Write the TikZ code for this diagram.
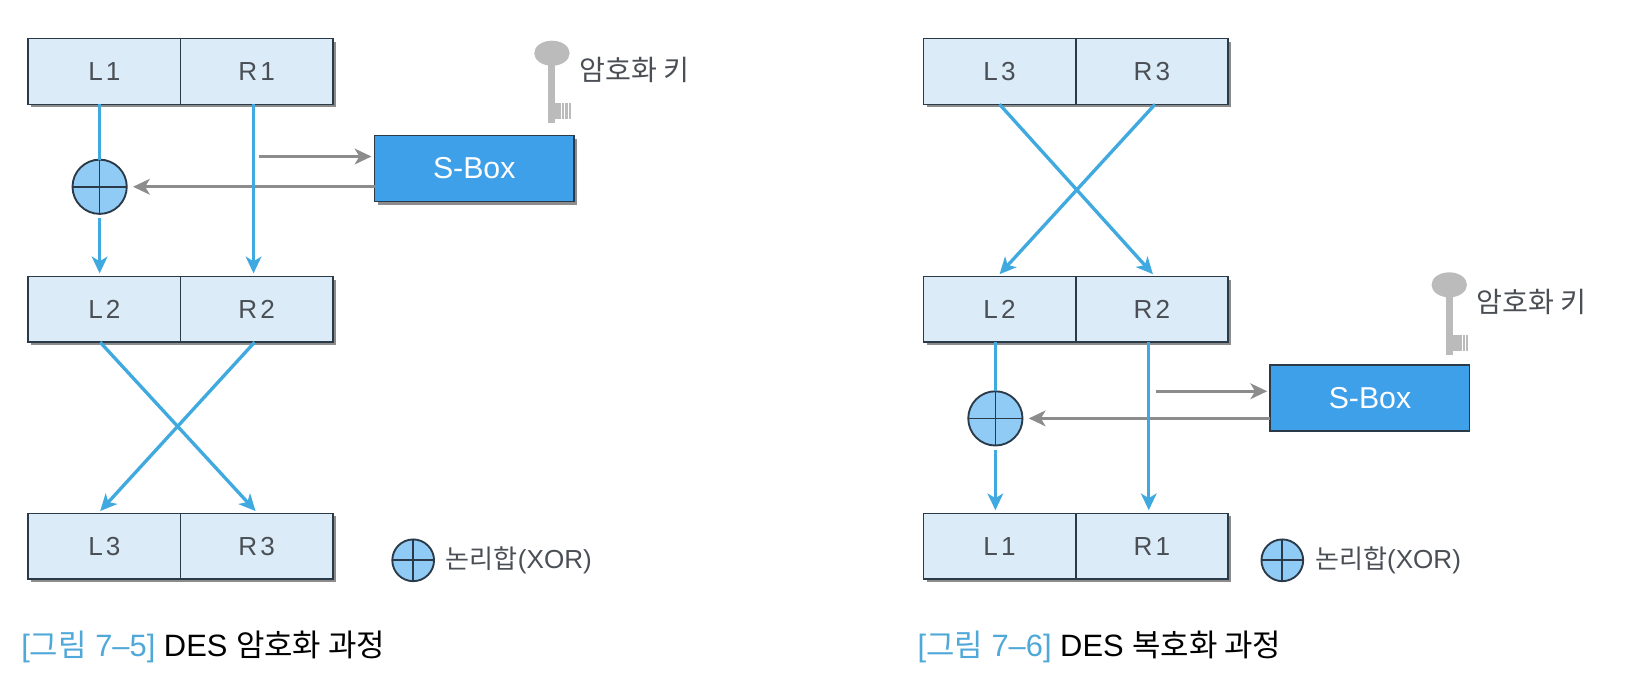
\documentclass[tikz,border=0pt]{standalone}
\usepackage{fontspec}
\setmainfont{Liberation Sans}
\newfontfamily\krfont{Noto Sans CJK KR}
\usetikzlibrary{positioning, arrows.meta, shadows}
\definecolor{halfbox_fill}{HTML}{DCEBF8}
\definecolor{sbox_fill}{HTML}{3FA0EA}
\definecolor{flow_blue}{HTML}{3FA9E0}
\definecolor{back_gray}{HTML}{8C8C8C}
\definecolor{key_gray}{HTML}{BBBBBB}
\definecolor{xor_fill}{HTML}{90CBF5}
\definecolor{edge_dark}{HTML}{2B3A48}
\definecolor{caption_blue}{HTML}{4FA8D8}
\definecolor{label_gray}{HTML}{4A4F55}

\begin{document}
\begin{tikzpicture}[
    x=1pt, y=1pt,
    >={Stealth[length=8pt, width=7.5pt, inset=2.2pt]},
    font=\fontsize{12.5}{15}\selectfont,
    node distance=82.5pt and 0pt,
    halfbox/.style={
        draw=edge_dark,
        line width=0.8pt,
        fill=halfbox_fill,
        text=label_gray,
        minimum width=73pt,
        minimum height=31.5pt,
        inner sep=0pt,
        outer sep=0pt,
        drop shadow={shadow xshift=1.5pt, shadow yshift=-1.5pt, fill=gray, opacity=0.9}
    },
    sbox/.style={
        draw=edge_dark,
        line width=0.8pt,
        fill=sbox_fill,
        text=white,
        font=\fontsize{14.5}{17}\selectfont,
        minimum width=95.5pt,
        minimum height=31.5pt,
        outer sep=0pt
    },
    sboxshadow/.style={
        sbox,
        drop shadow={shadow xshift=1.5pt, shadow yshift=-1.5pt, fill=gray, opacity=0.9}
    },
    xorsign/.style={
        circle,
        draw=edge_dark,
        line width=0.9pt,
        fill=xor_fill,
        minimum size=#1,
        inner sep=0pt,
        outer sep=0pt,
        path picture={
            \draw[edge_dark, line width=0.8pt]
                (path picture bounding box.north) -- (path picture bounding box.south)
                (path picture bounding box.west) -- (path picture bounding box.east);
        }
    },
    flow/.style={->, flow_blue, line width=1.6pt, shorten >=1.5pt},
    plainflow/.style={flow_blue, line width=1.6pt},
    back/.style={->, back_gray, line width=1.6pt},
    note/.style={text=label_gray, inner sep=0pt, anchor=west},
    keynote/.style={note, font=\fontsize{13.5}{16}\selectfont},
    caption/.style={font=\fontsize{14.8}{18}\selectfont, inner sep=0pt, anchor=west},
    keyicon/.pic={
        \fill[key_gray] (0,0) ellipse (8.5pt and 6pt);
        \fill[key_gray] (-1.7,-4) rectangle (1.7,-33.5);
        \fill[key_gray] (1.7,-24) rectangle (4.5,-31.5);
        \fill[key_gray] (4.8,-24) rectangle (6,-31.5);
        \fill[key_gray] (6.4,-24) rectangle (7.6,-31.5);
        \fill[key_gray] (8,-24) rectangle (9.2,-31.5);
    }
]
\useasboundingbox (0,0) rectangle (784,-329.5);

% encryption
\node[halfbox] (L1) at (50,-34.25) {L\kern1.5pt 1};
\node[halfbox, right=0pt of L1] (R1) {R\kern1.5pt 1};
\node[halfbox, below=82.5pt of L1] (L2) {L\kern1.5pt 2};
\node[halfbox, right=0pt of L2] (R2) {R\kern1.5pt 2};
\node[halfbox, below=82pt of L2] (L3) {L\kern1.5pt 3};
\node[halfbox, right=0pt of L3] (R3) {R\kern1.5pt 3};

\node[sboxshadow] (SBox) at (227.25,-80.75) {S-Box};
\node[xorsign=26pt] (XOR) at (47.75,-89.5) {};
\coordinate (RTap) at (124,-75);

\pic (Key) at (264.5,-25.5) {keyicon};
\node[keynote] (KeyText) at (277.5,-33.5) {{\krfont 암호화 키}};

\draw[plainflow] ([xshift=-2.25pt]L1.south) -- (XOR.north);
\draw[flow] ([yshift=-2pt]XOR.south) -- (XOR.south |- L2.north);
\draw[back] (RTap) -- ([yshift=5.75pt, xshift=-1.5pt]SBox.west);
\draw[back, shorten >=3pt] (SBox.west |- XOR.east) -- (XOR.east);
\draw[flow] ([xshift=-1.5pt]R1.south) -- ([xshift=-1.5pt]R2.north);
\draw[flow] ([xshift=-2pt]L2.south) -- ([xshift=0.5pt]R3.north);
\draw[flow] ([xshift=-1pt]R2.south) -- ([xshift=-3pt]L3.north);

\node[xorsign=20pt] (XORLegend) at (198,-268.5) {};
\node[note, right=5.5pt of XORLegend] (LegendText) {{\krfont 논리합}(XOR)};
\node[caption] (CaptionA) at (10,-310) {\textcolor{caption_blue}{[{\krfont 그림} 7–5]} DES {\krfont 암호화 과정}};

% decryption
\node[halfbox] (LB3) at (479,-34.25) {L\kern1.5pt 3};
\node[halfbox, right=0pt of LB3] (RB3) {R\kern1.5pt 3};
\node[halfbox, below=82.5pt of LB3] (LB2) {L\kern1.5pt 2};
\node[halfbox, right=0pt of LB2] (RB2) {R\kern1.5pt 2};
\node[halfbox, below=82pt of LB2] (LB1) {L\kern1.5pt 1};
\node[halfbox, right=0pt of LB1] (RB1) {R\kern1.5pt 1};

\node[sbox] (SBoxB) at (656.5,-190.75) {S-Box};
\node[xorsign=26pt] (XORB) at (477,-200.5) {};
\coordinate (RTapB) at (554,-187.5);

\pic (KeyB) at (694.5,-136.5) {keyicon};
\node[keynote] (KeyTextB) at (707.5,-144.5) {{\krfont 암호화 키}};

\draw[flow] (LB3.south) -- ([xshift=1.5pt]RB2.north);
\draw[flow] ([xshift=1.5pt]RB3.south) -- ([xshift=-1pt]LB2.north);
\draw[plainflow] ([xshift=-2pt]LB2.south) -- (XORB.north);
\draw[flow] ([yshift=-2pt]XORB.south) -- (XORB.south |- LB1.north);
\draw[back] (RTapB) -- ([yshift=3.25pt, xshift=-1.5pt]SBoxB.west);
\draw[back, shorten >=3pt] (SBoxB.west |- XORB.east) -- (XORB.east);
\draw[flow] ([xshift=-1.5pt]RB2.south) -- ([xshift=-1.5pt]RB1.north);

\node[xorsign=20pt] (XORLegendB) at (614.5,-268.5) {};
\node[note, right=5.5pt of XORLegendB] (LegendTextB) {{\krfont 논리합}(XOR)};
\node[caption] (CaptionB) at (439.5,-310) {\textcolor{caption_blue}{[{\krfont 그림} 7–6]} DES {\krfont 복호화 과정}};

\end{tikzpicture}
\end{document}
